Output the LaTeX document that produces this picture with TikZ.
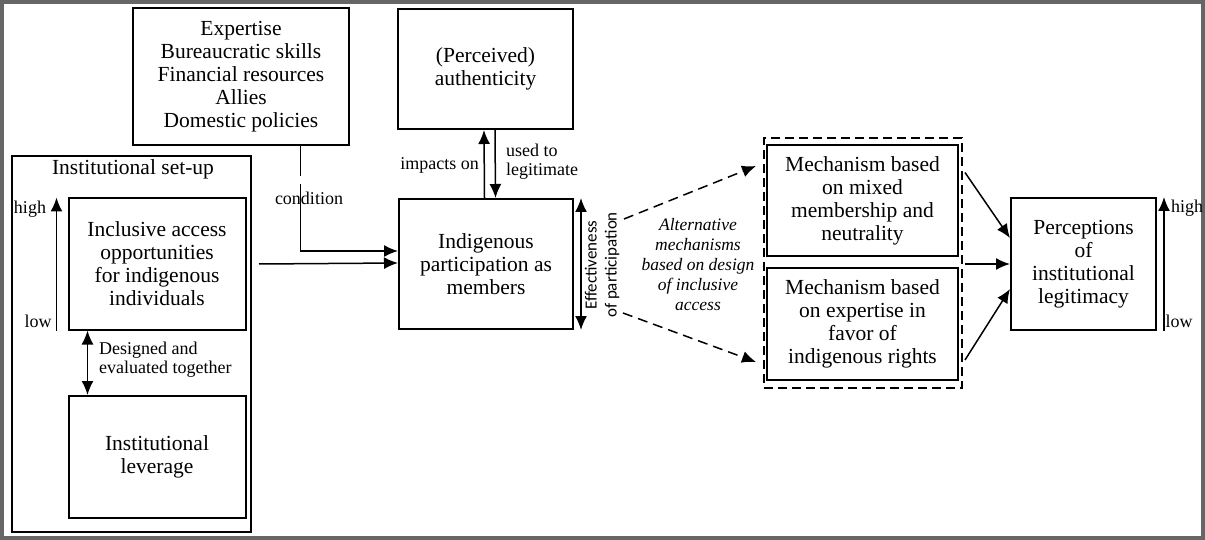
\documentclass[tikz,border=0pt]{standalone}
\usepackage{fontspec}
\setmainfont{Liberation Serif}
\newfontfamily\labelsans{Carlito}
\usetikzlibrary{arrows.meta}
\begin{document}
\begin{tikzpicture}[x=1pt,y=-1pt,
  box/.style={draw,line width=2pt,align=center,inner sep=0pt,
    font=\fontsize{21.5}{23}\selectfont},
  lbl/.style={align=left,inner sep=0pt,font=\fontsize{18}{19}\selectfont},
  tip/.style={-{Latex[length=14pt,width=12pt]}},
  arr/.style={line width=1.5pt,tip},
  darr/.style={line width=1.5pt,{Latex[length=14pt,width=12pt]}-{Latex[length=14pt,width=12pt]}},
  dasharr/.style={arr,dash pattern=on 10pt off 6pt},
]
\useasboundingbox (0,0) rectangle (1205,540);
% outer frame
\draw[line width=4pt,draw=black!60] (2,2) rectangle (1203,538);

% resources box
\node[box,minimum width=216pt,minimum height=137pt] (exp) at (241,77)
  {Expertise\\Bureaucratic skills\\Financial resources\\Allies\\Domestic policies};

% institutional set-up
\node[box,minimum width=239pt,minimum height=375pt] (setup) at (131.5,344) {};
\node[inner sep=0pt,font=\fontsize{21.5}{23}\selectfont] (setuptitle) at (133,169) {Institutional set-up};
\node[box,minimum width=177pt,minimum height=131pt] (incl) at (157,264)
  {Inclusive access\\opportunities\\for indigenous\\individuals};
\node[box,minimum width=177pt,minimum height=122pt] (lev) at (157,457)
  {Institutional\\leverage};

\node[lbl] (inclhigh) at (30,209) {high};
\node[lbl] (incllow) at (38,321) {low};
\draw[arr] ([xshift=-11pt]incl.south west) -- ([xshift=-11pt]incl.north west);

\draw[darr] ([xshift=20pt]incl.south west) -- ([xshift=20pt]lev.north west);
\node[lbl,anchor=west] (together) at (99,359.5) {Designed and\\evaluated together};

% participation and authenticity
\node[box,minimum width=175pt,minimum height=120pt] (auth) at (485.5,69)
  {(Perceived)\\authenticity};
\node[box,minimum width=174pt,minimum height=130pt] (indig) at (486,264)
  {Indigenous\\participation as\\members};

\draw[arr] ([xshift=-1.5pt]indig.north) -- ([xshift=-1.5pt]auth.south);
\draw[arr] ([xshift=9.5pt]auth.south) -- ([xshift=9.5pt]indig.north);
\node[lbl,anchor=east] (impacts) at (479,165) {impacts on};
\node[lbl,anchor=west] (usedto) at (506,161.5) {used to\\legitimate};

% conditioning link
\node[lbl] (cond) at (309,198) {condition};
\draw[line width=1.5pt] (exp.south -| 300.5,0) -- ([yshift=-30pt]exp.south -| 300.5,0);
\draw[arr] ([yshift=21pt]cond.south -| 300.5,0) |- ([yshift=13pt]indig.west);
\draw[arr] ([xshift=7pt]setup.east |- indig.west) -- ([yshift=1pt]indig.west);

% effectiveness
\draw[darr] ([xshift=7pt]indig.north east) -- ([xshift=7pt]indig.south east);
\node[rotate=90,align=center,inner sep=0pt,font=\labelsans\fontsize{17}{20}\selectfont]
  (eff) at (602,265) {Effectiveness\\of participation};

% alternative mechanisms
\node[align=center,inner sep=0pt,font=\itshape\fontsize{17.5}{20}\selectfont] (alt) at (698,265)
  {Alternative\\mechanisms\\based on design\\of inclusive\\access};

\node[draw,line width=2pt,dash pattern=on 9pt off 5pt,minimum width=198pt,minimum height=250pt] (mechs) at (863,263) {};
\node[box,minimum width=191pt,minimum height=111pt] (mech1) at (862.5,201)
  {Mechanism based\\on mixed\\membership and\\neutrality};
\node[box,minimum width=191pt,minimum height=112pt] (mech2) at (862.5,324)
  {Mechanism based\\on expertise in\\favor of\\indigenous rights};

\coordinate (altup) at (624,219);
\coordinate (altdown) at (623,313);
\draw[dasharr] (altup) -- ([shift={(-10pt,35pt)}]mech1.west);
\draw[dasharr] (altdown) -- ([shift={(-10pt,-38pt)}]mech2.west);

% legitimacy
\node[box,minimum width=145pt,minimum height=132pt] (perc) at (1083.5,264)
  {Perceptions\\of\\institutional\\legitimacy};

\draw[arr] ([shift={(6pt,28.5pt)}]mech1.east) -- ([yshift=26pt]perc.west);
\draw[arr] ([xshift=2pt]mechs.east |- perc.west) -- (perc.west);
\draw[arr] ([shift={(6pt,-36pt)}]mech2.east) -- ([yshift=-25pt]perc.west);

\draw[arr] ([xshift=7pt]perc.south east) -- ([xshift=7pt]perc.north east);
\node[lbl] (perchigh) at (1187,208) {high};
\node[lbl] (perclow) at (1179,321) {low};
\end{tikzpicture}
\end{document}
